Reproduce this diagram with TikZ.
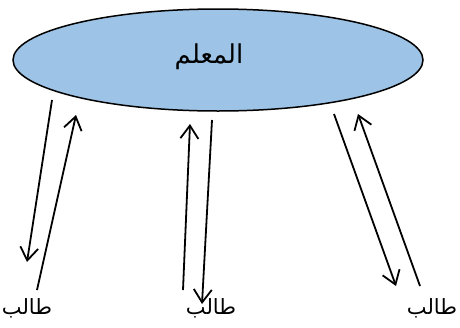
\documentclass[tikz,border=0pt]{standalone}
\usepackage{fontspec}
\newfontfamily\arabicfont[Script=Arabic]{DejaVu Sans}
\TeXXeTstate=1
\usetikzlibrary{shapes.geometric,arrows.meta}
\definecolor{lightblue}{RGB}{157,195,230}
\tikzset{
  teacher/.style={ellipse,draw=black,line width=1.5pt,fill=lightblue,minimum width=410pt,minimum height=102pt,inner sep=0pt},
  pupil/.style={inner sep=0pt,font=\arabicfont\fontsize{21}{25}\selectfont},
  link/.style={line width=1.8pt,-{Straight Barb[length=13pt,width=18pt,line width=1.8pt]}}
}
\begin{document}
\begin{tikzpicture}[x=1pt,y=-1pt]
\useasboundingbox (0,0) rectangle (460,327);
\node[teacher] (t) at (218,60) {};
\node[pupil,font=\arabicfont\fontsize{26}{30}\selectfont] at ([xshift=-9pt,yshift=3pt]t.center) {\beginR المعلم\endR};
\node[pupil] (s1) at (27,308) {\beginR طالب\endR};
\node[pupil] (s2) at (211,308) {\beginR طالب\endR};
\node[pupil] (s3) at (432,308) {\beginR طالب\endR};
% left pair
\coordinate (a1) at (52,100); \coordinate (b1) at (27,262);
\coordinate (c1) at (37,290); \coordinate (d1) at (76,115);
\draw[link] (a1) -- (b1);
\draw[link] (c1) -- (d1);
% middle pair
\coordinate (c2) at (183,290); \coordinate (d2) at (190,124);
\coordinate (a2) at (212,120); \coordinate (b2) at (202,304);
\draw[link] (c2) -- (d2);
\draw[link] (a2) -- (b2);
% right pair
\coordinate (a3) at (334,114); \coordinate (b3) at (396,286);
\coordinate (c3) at (420,286); \coordinate (d3) at (358,114);
\draw[link] (a3) -- (b3);
\draw[link] (c3) -- (d3);
\end{tikzpicture}
\end{document}
